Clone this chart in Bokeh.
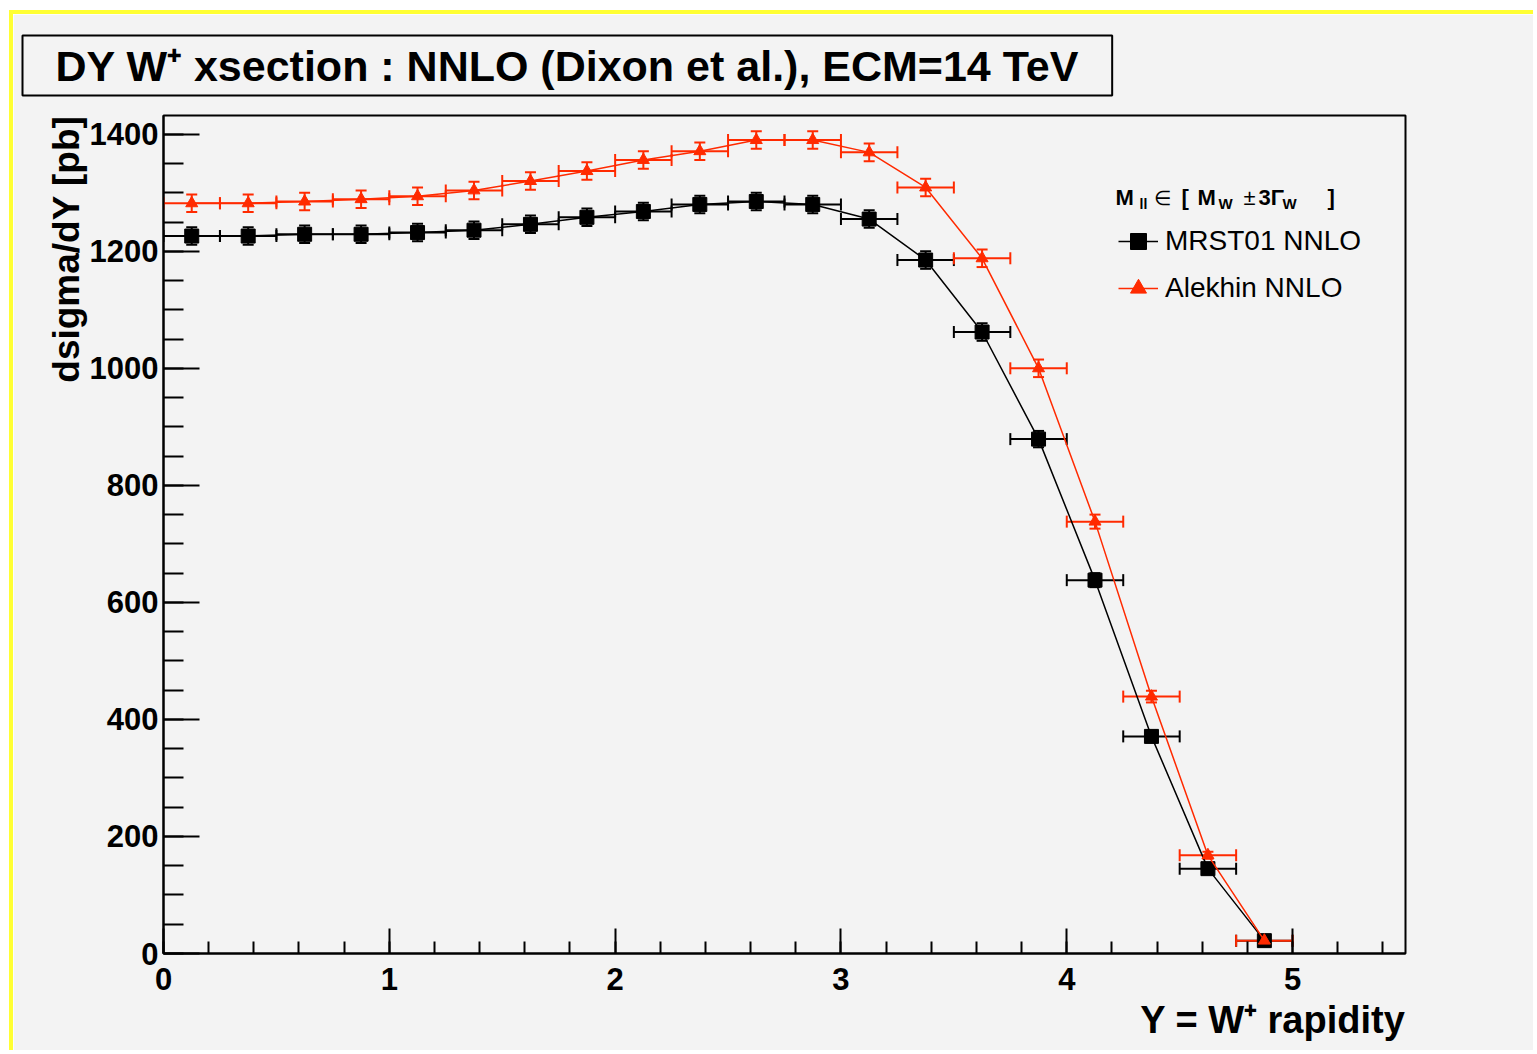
import numpy as np
from bokeh.plotting import figure
from bokeh.models import (ColumnDataSource, Whisker, TeeHead, Legend, LegendItem,
                          Label, Title, SingleIntervalTicker)
from bokeh.embed import file_html
from bokeh.resources import INLINE

# ---------------- data ----------------
rapidity = [0.125, 0.375, 0.625, 0.875, 1.125, 1.375, 1.625, 1.875, 2.125, 2.375,
            2.625, 2.875, 3.125, 3.375, 3.625, 3.875, 4.125, 4.375, 4.625, 4.875]
bin_half_width = 0.125
mrst01 = [1226, 1226, 1229, 1229, 1232, 1236, 1246, 1258, 1268, 1280,
          1285, 1280, 1255, 1185, 1062, 879, 638, 371, 145, 22]
mrst01_err = [15, 15, 15, 15, 15, 15, 15, 15, 15, 15,
              15, 15, 15, 15, 15, 14, 12, 10, 6, 3]
alekhin = [1282, 1282, 1285, 1289, 1294, 1304, 1320, 1337, 1356, 1371,
           1390, 1390, 1369, 1309, 1188, 1000, 738, 439, 168, 22]
alekhin_err = [15, 15, 15, 15, 15, 15, 15, 15, 15, 15,
               15, 15, 15, 15, 15, 15, 12, 10, 6, 3]

title_text = "DY W\u207a xsection : NNLO (Dixon et al.), ECM=14 TeV"
x_title = "Y = W\u207a rapidity"
y_title = "dsigma/dY [pb]"
series_labels = ["MRST01 NNLO", "Alekhin NNLO"]

BLACK = "#000000"
RED = "#ff2a00"
BG = "#f3f3f3"
FONT = "Liberation Sans"
OX, OY = 13, 14          # page offset of the canvas (yellow border)
W, H = 1537 - OX, 1054 - OY

p = figure(width=W, height=H, x_range=(0, 5.5), y_range=(0, 1432),
           output_backend="svg", toolbar_location=None,
           min_border_left=163 - OX, min_border_right=132,
           min_border_top=115 - OY, min_border_bottom=101,
           background_fill_color=BG, border_fill_color=BG)
p.margin = (10, 0, 0, 9)
p.styles = {"border-top": "4px solid #ffff33", "border-left": "4px solid #ffff33"}
p.outline_line_color = BLACK
p.outline_line_width = 2
p.grid.visible = False

p.title = Title(text=title_text, align="left", offset=-141, standoff=36,
                vertical_align="top",
                text_font=FONT, text_font_style="bold", text_font_size="43px",
                text_color=BLACK, border_line_color=BLACK, border_line_width=2,
                background_fill_color=BG,
                padding={"left": 33, "right": 33, "top": 6, "bottom": 6})

# axes
p.xaxis.ticker = SingleIntervalTicker(interval=1, num_minor_ticks=5)
p.yaxis.ticker = SingleIntervalTicker(interval=200, num_minor_ticks=4)
for ax in (p.xaxis[0], p.yaxis[0]):
    ax.axis_line_color = BLACK
    ax.axis_line_width = 2
    ax.major_tick_out = 0
    ax.minor_tick_out = 0
    ax.major_tick_line_width = 2
    ax.minor_tick_line_width = 2
    ax.major_label_text_font = FONT
    ax.major_label_text_font_style = "bold"
    ax.major_label_text_font_size = "31px"
    ax.major_label_text_color = BLACK
p.xaxis.major_tick_in = 25
p.xaxis.minor_tick_in = 12
p.xaxis.major_label_standoff = 14
p.yaxis.major_tick_in = 36
p.yaxis.minor_tick_in = 20
p.yaxis.major_label_standoff = 5

p.add_layout(Title(text=y_title, align="right", text_font=FONT, text_font_style="bold",
                   text_font_size="37px", text_color=BLACK, standoff=0), "left")
p.add_layout(Title(text=x_title, align="right", text_font=FONT, text_font_style="bold",
                   text_font_size="38px", text_color=BLACK, standoff=9), "below")

renderers = []
for vals, errs, color, marker, msize in [(mrst01, mrst01_err, BLACK, "square", 14),
                                         (alekhin, alekhin_err, RED, "triangle", 12)]:
    xs = np.array(rapidity)
    ys = np.array(vals, dtype=float)
    es = np.array(errs, dtype=float)
    src = ColumnDataSource(dict(x=xs, y=ys, xlo=xs - bin_half_width, xhi=xs + bin_half_width,
                                ylo=ys - es, yhi=ys + es))
    ln = p.line("x", "y", source=src, line_color=color, line_width=1.5)
    p.add_layout(Whisker(source=src, base="y", lower="xlo", upper="xhi", dimension="width",
                         line_color=color, line_width=2,
                         upper_head=TeeHead(size=12, line_color=color, line_width=2),
                         lower_head=TeeHead(size=12, line_color=color, line_width=2)))
    p.add_layout(Whisker(source=src, base="x", lower="ylo", upper="yhi", dimension="height",
                         line_color=color, line_width=2,
                         upper_head=TeeHead(size=11, line_color=color, line_width=2),
                         lower_head=TeeHead(size=11, line_color=color, line_width=2)))
    sc = p.scatter("x", "y", source=src, marker=marker, size=msize,
                   fill_color=color, line_color=color)
    renderers.append((ln, sc))

legend = Legend(items=[LegendItem(label=series_labels[i], renderers=list(renderers[i]))
                       for i in range(2)],
                location=(955, 645), glyph_width=40, glyph_height=40, label_height=40,
                label_standoff=7, spacing=7, padding=0, margin=0,
                label_text_font=FONT, label_text_font_size="28px", label_text_color=BLACK,
                border_line_alpha=0, background_fill_alpha=0)
p.add_layout(legend)

# legend header with subscripts (positions in page pixels)
LX, LY = OX + 4, OY + 4
def lab(x, y, t, size, bold=True):
    p.add_layout(Label(x=x - LX, y=y - LY, x_units="canvas", y_units="canvas", text=t,
                       text_font=FONT, text_font_size=size,
                       text_font_style="bold" if bold else "normal",
                       text_baseline="alphabetic", text_align="left", text_color=BLACK))

lab(1115, 197, "M", "22px")
lab(1139, 203, "ll", "14px")
lab(1153, 197, "\u2208", "20px", False)
lab(1181, 197, "[", "22px")
lab(1197, 197, "M", "22px")
lab(1218, 203, "W", "15px")
lab(1243, 197, "\u00b1", "22px", False)
lab(1258, 197, "3\u0393", "22px")
lab(1282, 203, "W", "15px")
lab(1327, 197, "]", "22px")

open("out.html", "w").write(file_html(p, INLINE))
